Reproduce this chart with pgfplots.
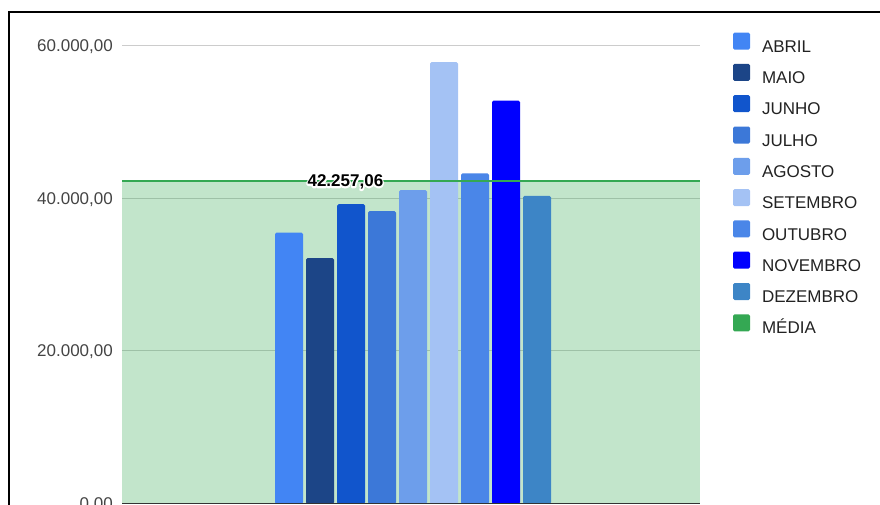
\documentclass[border=0pt]{standalone}
\usepackage{pgfplots}
\pgfplotsset{compat=1.18}
\usepackage{fontspec}
\setmainfont{Liberation Sans}
\definecolor{cabril}{HTML}{4285F4}
\definecolor{cmaio}{HTML}{1C4587}
\definecolor{cjunho}{HTML}{1155CC}
\definecolor{cjulho}{HTML}{3C78D8}
\definecolor{cagosto}{HTML}{6D9EEB}
\definecolor{csetembro}{HTML}{A4C2F4}
\definecolor{coutubro}{HTML}{4A86E8}
\definecolor{cnovembro}{HTML}{0000FF}
\definecolor{cdezembro}{HTML}{3D85C6}
\definecolor{cmedia}{HTML}{34A853}
\definecolor{gridgray}{HTML}{CCCCCC}
\definecolor{ticktext}{HTML}{444444}
\definecolor{legendtext}{HTML}{222222}
\definecolor{axisdark}{HTML}{333333}
\newcommand{\halo}[1]{\rlap{\special{pdf:literal direct 1 Tr 3 w 1 1 1 RG 1 J 1 j}#1\special{pdf:literal direct 0 Tr}}#1}
\begin{document}
\begin{tikzpicture}
\path[use as bounding box] (0,0) rectangle (880pt,504pt);
\begin{axis}[
  at={(122pt,0.2pt)}, anchor=south west,
  scale only axis, width=578pt, height=458.5pt,
  xmin=-1, xmax=1, ymin=0, ymax=60000,
  clip=false,
  scaled y ticks=false,
  axis line style={draw=none},
  xtick=\empty,
  ytick={0,20000,40000,60000},
  yticklabels={{0,00},{20.000,00},{40.000,00},{60.000,00}},
  major tick length=0pt,
  ymajorgrids,
  grid style={draw=gridgray, line width=1pt},
  yticklabel style={font=\fontsize{17}{17}\selectfont, color=ticktext, inner sep=0pt, xshift=-9pt, text height=12pt, text depth=0pt},
  legend style={at={(1.0571,1.0277)}, anchor=north west, draw=none, fill=none,
    inner sep=0pt, outer sep=0pt, font=\fontsize{17}{17}\selectfont, text=legendtext,
    row sep=9.2pt, nodes={inner sep=0pt, text height=12.5pt, text depth=2.5pt},
    /tikz/every odd column/.append style={column sep=12pt}},
  legend cell align=left,
  legend image code/.code={\fill[#1, rounded corners=1.5pt] (0pt,-2.4pt) rectangle (17pt,14.6pt);},
]
% average area (background)
\addplot[forget plot, fill=cmedia, fill opacity=0.3, draw=none] coordinates {(-1,42257.06) (1,42257.06)} \closedcycle;
% bars
\addplot[ybar, bar width=28pt, bar shift=-122pt, fill=cabril, draw=none, rounded corners=1.5pt] coordinates {(0,35500)};
\addlegendentry{ABRIL}
\addplot[ybar, bar width=28pt, bar shift=-91pt, fill=cmaio, draw=none, rounded corners=1.5pt] coordinates {(0,32150)};
\addlegendentry{MAIO}
\addplot[ybar, bar width=28pt, bar shift=-60pt, fill=cjunho, draw=none, rounded corners=1.5pt] coordinates {(0,39200)};
\addlegendentry{JUNHO}
\addplot[ybar, bar width=28pt, bar shift=-29pt, fill=cjulho, draw=none, rounded corners=1.5pt] coordinates {(0,38300)};
\addlegendentry{JULHO}
\addplot[ybar, bar width=28pt, bar shift=2pt, fill=cagosto, draw=none, rounded corners=1.5pt] coordinates {(0,41050)};
\addlegendentry{AGOSTO}
\addplot[ybar, bar width=28pt, bar shift=33pt, fill=csetembro, draw=none, rounded corners=1.5pt] coordinates {(0,57800)};
\addlegendentry{SETEMBRO}
\addplot[ybar, bar width=28pt, bar shift=64pt, fill=coutubro, draw=none, rounded corners=1.5pt] coordinates {(0,43250)};
\addlegendentry{OUTUBRO}
\addplot[ybar, bar width=28pt, bar shift=95pt, fill=cnovembro, draw=none, rounded corners=1.5pt] coordinates {(0,52750)};
\addlegendentry{NOVEMBRO}
\addplot[ybar, bar width=28pt, bar shift=126pt, fill=cdezembro, draw=none, rounded corners=1.5pt] coordinates {(0,40300)};
\addlegendentry{DEZEMBRO}
% average line
\addplot[forget plot, color=cmedia, line width=2.2pt] coordinates {(-1,42257.06) (1,42257.06)};
% baseline
\addplot[forget plot, color=axisdark, line width=1pt] coordinates {(-1,0) (1,0)};
\addlegendimage{fill=cmedia, draw=none}
\addlegendentry{MÉDIA}
\node[anchor=base, yshift=-6pt, inner sep=0pt, font=\fontsize{17}{17}\selectfont\bfseries] at (axis cs:-0.227,42257.06) {\halo{42.257,06}};
\end{axis}
\draw[line width=2.2pt, black] (9pt,-10pt) -- (9pt,492pt) -- (890pt,492pt);
\end{tikzpicture}
\end{document}
